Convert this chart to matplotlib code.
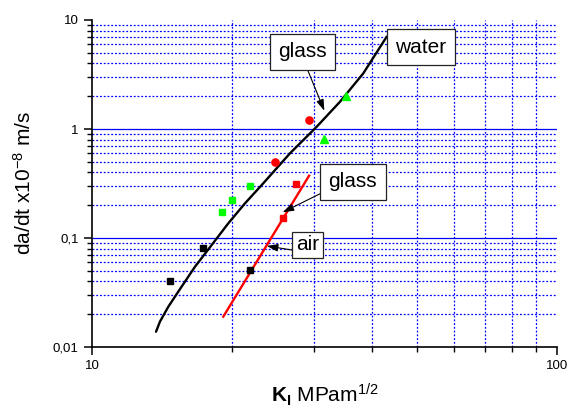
import matplotlib
matplotlib.use("Agg")
import matplotlib.pyplot as plt
from matplotlib.ticker import FixedLocator, FixedFormatter, NullFormatter

plt.rcParams['font.family'] = ['Liberation Sans', 'DejaVu Sans']
plt.rcParams['mathtext.fontset'] = 'custom'
plt.rcParams['mathtext.rm'] = 'Liberation Sans'
plt.rcParams['mathtext.it'] = 'Liberation Sans:italic'
plt.rcParams['mathtext.bf'] = 'Liberation Sans:bold'

# ---- data ----
black_sq_x = [14.7, 17.3, 21.9]
black_sq_y = [0.0403, 0.0804, 0.0506]
green_sq_x = [19.0, 20.0, 21.9]
green_sq_y = [0.172, 0.222, 0.300]
red_sq_x = [25.7, 27.5]
red_sq_y = [0.152, 0.313]
red_circ_x = [24.8, 29.3]
red_circ_y = [0.50, 1.217]
green_tri_x = [31.6, 35.1]
green_tri_y = [0.81, 2.02]

water_x = [13.73, 14.00, 14.59, 15.33, 16.65, 18.09, 19.64, 21.33, 23.17, 26.66, 30.43, 34.15, 38.32, 43.03]
water_y = [0.0138, 0.0171, 0.0234, 0.0322, 0.0545, 0.0863, 0.1364, 0.208, 0.306, 0.599, 1.05, 1.78, 3.24, 7.03]
air_x = [19.16, 29.3]
air_y = [0.019, 0.373]

yticks = [0.01, 0.1, 1, 10]
yticklabels = ['0,01', '0,1', '1', '10']
xticks = [10, 100]
xticklabels = ['10', '100']

W, H = 569, 412
fig = plt.figure(figsize=(W/100, H/100), dpi=100)
ax = fig.add_axes([92/W, 1-347/H, (557-92)/W, (347-20)/H])
ax.set_xscale('log')
ax.set_yscale('log')
ax.set_xlim(10, 100)
ax.set_ylim(0.01, 10)

# grid
minor_y = [m*10**e for e in (-2, -1, 0) for m in range(2, 10)]
minor_x = [m*10 for m in range(2, 10)]
for yv in minor_y:
    ax.axhline(yv, color='#0000ff', lw=0.9, ls=(0, (1.5, 1.5)), zorder=0)
for xv in minor_x:
    ax.axvline(xv, color='#0000ff', lw=0.9, ls=(0, (1.5, 1.5)), zorder=0)
for yv in [0.1, 1]:
    ax.axhline(yv, color='#0000ff', lw=0.9, zorder=0)

ax.spines['top'].set_visible(False)
ax.spines['right'].set_visible(False)
for s in ('left', 'bottom'):
    ax.spines[s].set_linewidth(1.2)

ax.yaxis.set_major_locator(FixedLocator(yticks))
ax.yaxis.set_major_formatter(FixedFormatter(yticklabels))
ax.yaxis.set_minor_locator(FixedLocator(minor_y))
ax.yaxis.set_minor_formatter(NullFormatter())
ax.xaxis.set_major_locator(FixedLocator(xticks))
ax.xaxis.set_major_formatter(FixedFormatter(xticklabels))
ax.xaxis.set_minor_locator(FixedLocator(minor_x))
ax.xaxis.set_minor_formatter(NullFormatter())
ax.tick_params(which='major', direction='out', length=6, width=1.1, labelsize=9.5, color='black')
ax.tick_params(which='minor', direction='out', length=3.5, width=1.0, color='black')

# curves
ax.plot(water_x, water_y, color='black', lw=1.7, zorder=3, solid_capstyle='round',
        solid_joinstyle='round')
ax.plot(air_x, air_y, color='#ff0000', lw=1.7, zorder=3)

# markers
ax.plot(black_sq_x, black_sq_y, 's', color='black', ms=4.8, zorder=4, ls='none')
ax.plot(green_sq_x, green_sq_y, 's', color='#00ff00', ms=4.8, zorder=4, ls='none')
ax.plot(red_sq_x, red_sq_y, 's', color='#ff0000', ms=4.8, zorder=4, ls='none')
ax.plot(red_circ_x, red_circ_y, 'o', color='#ff0000', ms=5.2, zorder=4, ls='none')
ax.plot(green_tri_x, green_tri_y, '^', color='#00ff00', ms=5.4, zorder=4, ls='none')

box = dict(boxstyle='square,pad=0.4', fc='white', ec='#222222', lw=0.9)
box_air = dict(boxstyle='square,pad=0.18', fc='white', ec='#222222', lw=0.9)
astyle = '-|>,head_length=0.45,head_width=0.15'

ax.annotate('glass', xy=(31.6, 1.47), xytext=(28.37, 5.12), fontsize=15,
            ha='center', va='center', bbox=box, zorder=6,
            arrowprops=dict(arrowstyle=astyle, color='black', lw=0.8,
                            relpos=(0.53, 0.0), shrinkA=0, shrinkB=0))
ax.text(51.0, 5.63, 'water', fontsize=15, ha='center', va='center', bbox=box, zorder=6)
ax.annotate('glass', xy=(25.7, 0.172), xytext=(36.4, 0.327), fontsize=15,
            ha='center', va='center', bbox=box, zorder=6,
            arrowprops=dict(arrowstyle=astyle, color='black', lw=0.8,
                            relpos=(0.0, 0.1), shrinkA=0, shrinkB=0))
ax.annotate('air', xy=(23.75, 0.0845), xytext=(29.1, 0.0863), fontsize=15,
            ha='center', va='center', bbox=box_air, zorder=6,
            arrowprops=dict(arrowstyle=astyle, color='black', lw=0.8,
                            relpos=(0.0, 0.2), shrinkA=0, shrinkB=0))

ax.set_xlabel(r'$\mathbf{K}_{\mathbf{I}}$ MPam$^{1/2}$', fontsize=15, labelpad=7)
ax.set_ylabel(r'da/dt x10$^{-8}$ m/s', fontsize=15, labelpad=13)

fig.savefig('out.png', dpi=100)
